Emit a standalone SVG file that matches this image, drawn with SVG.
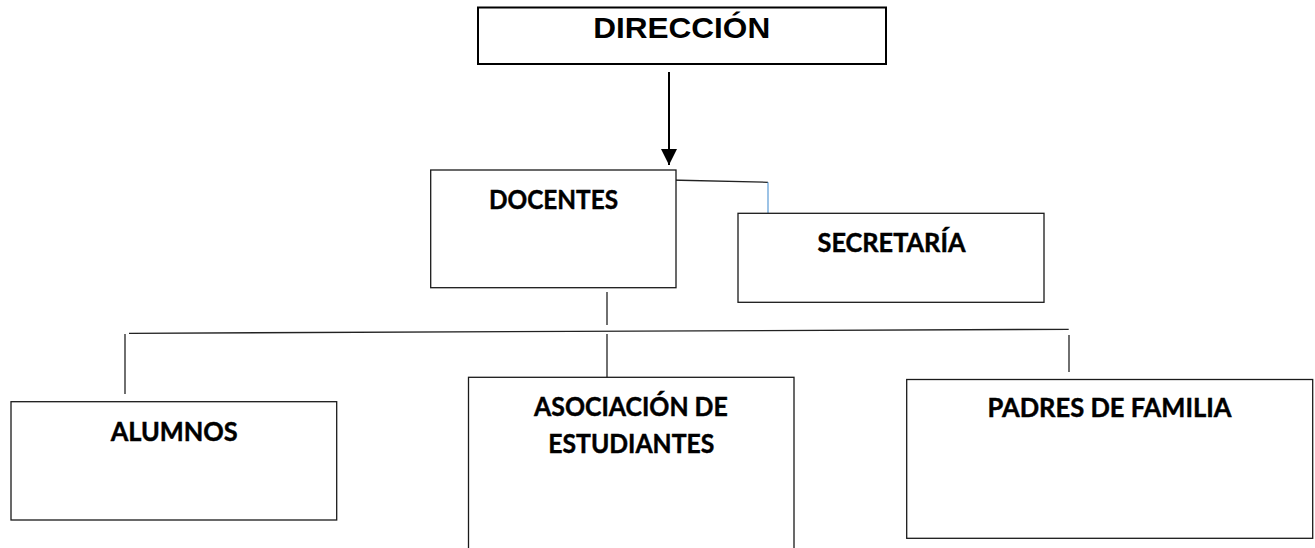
<svg xmlns="http://www.w3.org/2000/svg" width="1315" height="548" viewBox="0 0 1315 548">
<style>
.box{fill:#fff;stroke:#1a1a1a;stroke-width:1.3}
.lbl{font-family:Lato,"Liberation Sans",sans-serif;font-weight:bold;font-size:26.5px;fill:#000;stroke:#000;stroke-width:0.45;text-anchor:middle}
.ttl{font-family:"Liberation Sans",Arial,sans-serif;font-weight:bold;font-size:29.5px;fill:#000;text-anchor:middle}
.ln{stroke:#222;stroke-width:1.3;fill:none}
</style>
<defs>
<marker id="ah" markerWidth="8" markerHeight="8" refX="8" refY="4" orient="auto" markerUnits="strokeWidth">
<path d="M0,0 L8,4 L0,8 Z" fill="#000"/>
</marker>
</defs>
<rect width="1315" height="548" fill="#fff"/>
<g id="connectors">
<line x1="669" y1="72" x2="669" y2="165" stroke="#000" stroke-width="2" marker-end="url(#ah)"/>
<polyline class="ln" points="669,180 768,182.3"/>
<line x1="768" y1="182.3" x2="768" y2="213" stroke="#5b9bd5" stroke-width="1.2"/>
<line class="ln" x1="607" y1="292" x2="607" y2="325"/>
<line class="ln" x1="129" y1="333.3" x2="1068.7" y2="329.3"/>
<line class="ln" x1="125" y1="334" x2="125" y2="394"/>
<line class="ln" x1="607" y1="334" x2="607" y2="378"/>
<line class="ln" x1="1069" y1="335" x2="1069" y2="372"/>
</g>
<g id="direccion">
<rect x="478" y="7.5" width="408" height="56.5" fill="#fff" stroke="#000" stroke-width="2"/>
<text class="ttl" x="681.7" y="37.5" textLength="177" lengthAdjust="spacingAndGlyphs">DIRECCIÓN</text>
</g>
<g id="docentes">
<rect class="box" x="430.7" y="170" width="245.3" height="117.7"/>
<text class="lbl" x="553.5" y="209.3" textLength="129" lengthAdjust="spacingAndGlyphs">DOCENTES</text>
</g>
<g id="secretaria">
<rect class="box" x="738" y="213.3" width="306" height="89"/>
<text class="lbl" x="891.5" y="252.3" textLength="148" lengthAdjust="spacingAndGlyphs">SECRETARÍA</text>
</g>
<g id="alumnos">
<rect class="box" x="11" y="401.7" width="325.7" height="118.3"/>
<text class="lbl" x="174.2" y="440.7" textLength="127" lengthAdjust="spacingAndGlyphs">ALUMNOS</text>
</g>
<g id="asociacion">
<rect class="box" x="468.5" y="377.3" width="325.5" height="185"/>
<text class="lbl" x="630.9" y="415.7" textLength="193.7" lengthAdjust="spacingAndGlyphs">ASOCIACIÓN DE</text>
<text class="lbl" x="631.3" y="453.3" textLength="166" lengthAdjust="spacingAndGlyphs">ESTUDIANTES</text>
</g>
<g id="padres">
<rect class="box" x="906.7" y="379.5" width="406" height="158.8"/>
<text class="lbl" x="1109.5" y="417.3" textLength="244" lengthAdjust="spacingAndGlyphs">PADRES DE FAMILIA</text>
</g>
</svg>
